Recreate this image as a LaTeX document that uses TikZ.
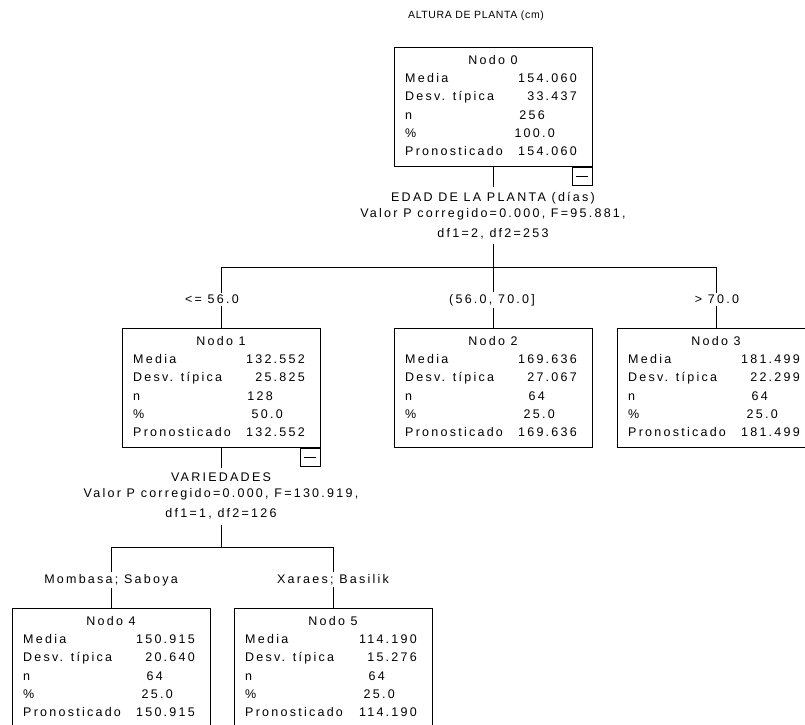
\documentclass[tikz,border=0pt]{standalone}
\usepackage{fontspec}
\setmainfont{Liberation Sans}[LetterSpace=18]
\newfontfamily\titlefont{Liberation Sans}[LetterSpace=6]
\newcommand\tfont{\fontsize{12.5}{16}\selectfont}
\tikzset{
  box/.style={draw, line width=1pt, minimum width=198pt, minimum height=119pt, inner sep=0pt},
  txt/.style={inner sep=0pt, font=\tfont},
  minusbox/.style={draw, line width=1pt, minimum width=20pt, minimum height=18pt, inner sep=0pt},
  conn/.style={line width=1pt},
  split/.style={align=center, inner sep=5pt, font=\tfont},
  branch/.style={inner sep=2pt, font=\tfont},
}
% #1 name, #2 centre x, #3 top y, #4 number, #5 media, #6 desv, #7 n, #8 pct
\newcommand\statbox[8]{%
  \node[box] (#1) at (#2, #3+59.5) {};
  \node[txt, anchor=base] (#1-t) at (#2, #3+17.5) {Nodo #4};
  \node[txt, anchor=base west] (#1-a) at (#2-88, #3+35.7) {Media};
  \node[txt, anchor=base west] (#1-b) at (#2-88, #3+53.9) {Desv. típica};
  \node[txt, anchor=base west] (#1-c) at (#2-88, #3+72.1) {n};
  \node[txt, anchor=base west] (#1-d) at (#2-88, #3+90.3) {\%};
  \node[txt, anchor=base west] (#1-e) at (#2-88, #3+108.5) {Pronosticado};
  \node[txt, anchor=base east] (#1-av) at (#2+84, #3+35.7) {#5};
  \node[txt, anchor=base east] (#1-bv) at (#2+84, #3+53.9) {#6};
  \node[txt, anchor=base east] (#1-cv) at (#2+52, #3+72.1) {#7};
  \node[txt, anchor=base east] (#1-dv) at (#2+62, #3+90.3) {#8};
  \node[txt, anchor=base east] (#1-ev) at (#2+84, #3+108.5) {#5};
}
\begin{document}
\begin{tikzpicture}[x=1pt, y=-1pt]
\fill[white] (0,0) rectangle (805,724);
\useasboundingbox (0,0) rectangle (805,724);
\clip (0,0) rectangle (805,724);

\node[inner sep=0pt, anchor=base, font=\titlefont\fontsize{10.5}{13}\selectfont] (title) at (476, 18) {ALTURA DE PLANTA (cm)};

\statbox{n0}{493}{47}{0}{154.060}{33.437}{256}{100.0}
\statbox{n1}{221}{328}{1}{132.552}{25.825}{128}{50.0}
\statbox{n2}{493}{328}{2}{169.636}{27.067}{64}{25.0}
\statbox{n3}{716}{328}{3}{181.499}{22.299}{64}{25.0}
\statbox{n4}{111}{608}{4}{150.915}{20.640}{64}{25.0}
\statbox{n5}{333}{608}{5}{114.190}{15.276}{64}{25.0}

\node[minusbox, anchor=north east] (m0) at (n0.south east) {};
\draw[conn] ([xshift=-6pt]m0.center) -- ([xshift=6pt]m0.center);
\node[minusbox, anchor=north east] (m1) at (n1.south east) {};
\draw[conn] ([xshift=-6pt]m1.center) -- ([xshift=6pt]m1.center);

\node[split, anchor=north] (s0) at (493, 187) {EDAD DE LA PLANTA (días)\\Valor P corregido=0.000, F=95.881,\\[4pt]df1=2, df2=253};
\node[split, anchor=north] (s1) at (221, 468) {VARIEDADES\\Valor P corregido=0.000, F=130.919,\\[4pt]df1=1, df2=126};

\node[branch, anchor=base] (b1) at (212, 303.5) {<= 56.0};
\node[branch, anchor=base] (b2) at (492, 303.5) {(56.0, 70.0]};
\node[branch, anchor=base] (b3) at (717, 303.5) {> 70.0};
\node[branch, anchor=base] (b4) at (111, 583.5) {Mombasa; Saboya};
\node[branch, anchor=base] (b5) at (333, 583.5) {Xaraes; Basilik};

\coordinate (j0) at (493, 267);
\coordinate (h1) at (221, 267);
\coordinate (h3) at (716, 267);
\coordinate (j1) at (221, 547);
\coordinate (h4) at (111, 547);
\coordinate (h5) at (333, 547);

\draw[conn] (n0.south) -- (s0.north);
\draw[conn] (s0.south) -- (j0);
\draw[conn] (h1) -- (h3);
\draw[conn] (h1) -- (h1 |- b1.north);
\draw[conn] (h1 |- b1.south) -- (n1.north);
\draw[conn] (j0) -- (j0 |- b2.north);
\draw[conn] (j0 |- b2.south) -- (n2.north);
\draw[conn] (h3) -- (h3 |- b3.north);
\draw[conn] (h3 |- b3.south) -- (n3.north);

\draw[conn] (n1.south) -- (s1.north);
\draw[conn] (s1.south) -- (j1);
\draw[conn] (h4) -- (h5);
\draw[conn] (h4) -- (h4 |- b4.north);
\draw[conn] (h4 |- b4.south) -- (n4.north);
\draw[conn] (h5) -- (h5 |- b5.north);
\draw[conn] (h5 |- b5.south) -- (n5.north);
\end{tikzpicture}
\end{document}
